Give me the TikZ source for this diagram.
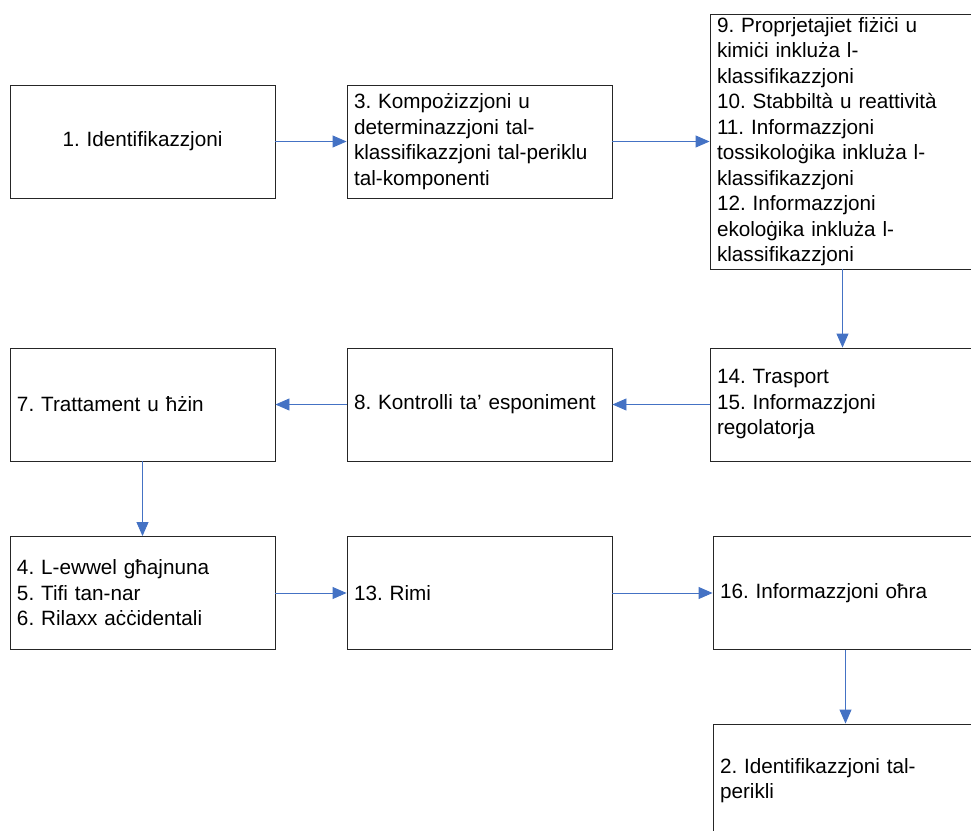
\documentclass[tikz,border=0pt]{standalone}
\usepackage{fontspec}
\setmainfont{Liberation Sans}
\usepackage{xcolor}
\usetikzlibrary{arrows.meta}
\definecolor{flowblue}{HTML}{4472C4}
\frenchspacing

\begin{document}
\begin{tikzpicture}[x=1bp,y=-1bp,
    box/.style={draw=black!85, line width=0.9bp, rectangle, minimum width=265bp, minimum height=113bp,
                text width=251bp, inner xsep=7bp, inner ysep=0pt, align=left,
                font=\fontsize{20.7bp}{25.5bp}\selectfont},
    flow/.style={flowblue, line width=0.9bp, -{Triangle[length=14bp,width=12bp]}}]
                \useasboundingbox (0,0) rectangle (971,831);
                \clip (0,0) rectangle (971,831);

                % Top row
                \node[box, align=center] (ident) at (142.5,141.5) {1. Identifikazzjoni};
                \node[box] (kompo) at (479.5,141.5) {3. Kompożizzjoni u\\determinazzjoni tal-\\klassifikazzjoni tal-periklu\\tal-komponenti};
                \node[box, minimum height=255bp] (props) at (842.5,141.5) {9. Proprjetajiet fiżiċi u\\kimiċi inkluża l-\\klassifikazzjoni\\10. Stabbiltà u reattività\\11. Informazzjoni\\tossikoloġika inkluża l-\\klassifikazzjoni\\12. Informazzjoni\\ekoloġika inkluża l-\\klassifikazzjoni};

                % Middle row
                \node[box] (trasp) at (842.5,404.5) {14. Trasport\\15. Informazzjoni\\regolatorja};
                \node[box] (kontr) at (479.5,404.5) {8. Kontrolli ta’ esponiment};
                \node[box] (tratt) at (142.5,404.5) {7. Trattament u ħżin};

                % Bottom row
                \node[box] (ghajn) at (142.5,593) {4. L-ewwel għajnuna\\5. Tifi tan-nar\\6. Rilaxx aċċidentali};
                \node[box] (rimi) at (479.5,593) {13. Rimi};
                \node[box] (ohra) at (845.5,593) {16. Informazzjoni oħra};
                \node[box] (perikli) at (845.5,780.5) {2. Identifikazzjoni tal-\\perikli};

                % Connectors
                \draw[flow] (ident) -- (kompo);
                \draw[flow] (kompo) -- (props);
                \draw[flow] (props) -- (trasp);
                \draw[flow] (trasp) -- (kontr);
                \draw[flow] (kontr) -- (tratt);
                \draw[flow] (tratt) -- (ghajn);
                \draw[flow] (ghajn) -- (rimi);
                \draw[flow] (rimi) -- (ohra);
                \draw[flow] (ohra) -- (perikli);
            \end{tikzpicture}
\end{document}
